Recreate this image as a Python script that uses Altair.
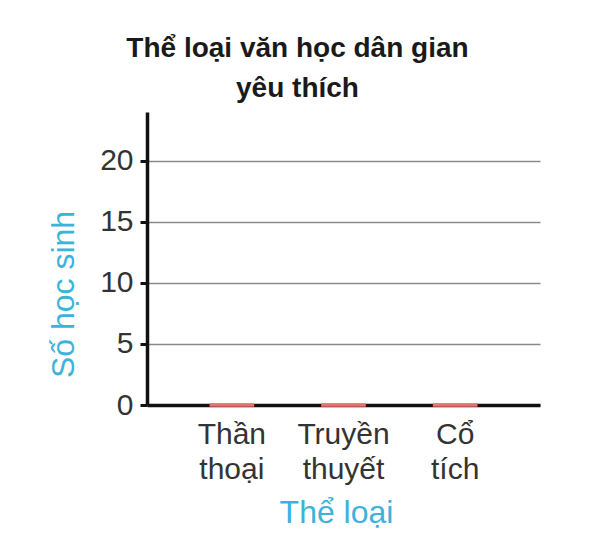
import altair as alt
import pandas as pd

categories = ["Thần thoại", "Truyền thuyết", "Cổ tích"]
values = [0, 0, 0]
y_ticks = [0, 5, 10, 15, 20]

df = pd.DataFrame({"the_loai": categories, "so_hoc_sinh": values})

FONT = "Liberation Sans"
CYAN = "#3db2da"

bars = alt.Chart(df).mark_bar(
    color="#e8736b", stroke="#e8736b", strokeWidth=3.5
).encode(
    x=alt.X(
        "the_loai:N",
        sort=categories,
        scale=alt.Scale(paddingInner=0.6, paddingOuter=0.56),
        axis=alt.Axis(
            title="Thể loại",
            titleColor=CYAN,
            titleFont=FONT,
            titleFontSize=32,
            titleFontWeight="normal",
            titleX=189,
            titleY=107,
            titleBaseline="middle",
            titleAlign="center",
            labelFont=FONT,
            labelFontSize=30,
            labelColor="#333333",
            labelAngle=0,
            labelPadding=14,
            labelLineHeight=35,
            labelExpr="split(datum.label, ' ')",
            ticks=False,
            domainColor="#111111",
            domainWidth=3.5,
        ),
    ),
    y=alt.Y(
        "so_hoc_sinh:Q",
        scale=alt.Scale(domain=[0, 24], nice=False),
        axis=alt.Axis(
            title="Số học sinh",
            titleColor=CYAN,
            titleFont=FONT,
            titleFontSize=32,
            titleFontWeight="normal",
            titleX=-84,
            titleY=182,
            titleAngle=270,
            titleBaseline="middle",
            titleAlign="center",
            values=y_ticks,
            labelFont=FONT,
            labelFontSize=30,
            labelColor="#333333",
            labelPadding=7,
            tickSize=7,
            tickWidth=3,
            tickColor="#111111",
            domainColor="#111111",
            domainWidth=3.5,
            grid=True,
            gridColor="#8a8a8a",
            gridWidth=1.5,
        ),
    ),
)

chart = bars.properties(
    width=393,
    height=293,
    autosize=alt.AutoSizeParams(type="none"),
    padding={"left": 139, "top": 104, "right": 40, "bottom": 130},
    title=alt.TitleParams(
        text=["Thể loại văn học dân gian", "yêu thích"],
        font=FONT,
        fontSize=28,
        fontWeight="bold",
        color="#1a1a1a",
        lineHeight=40,
        anchor="middle",
        dx=-46,
        offset=9,
    ),
).configure_view(stroke=None)

chart.save("out.html", embed_options={"renderer": "svg", "actions": False})
